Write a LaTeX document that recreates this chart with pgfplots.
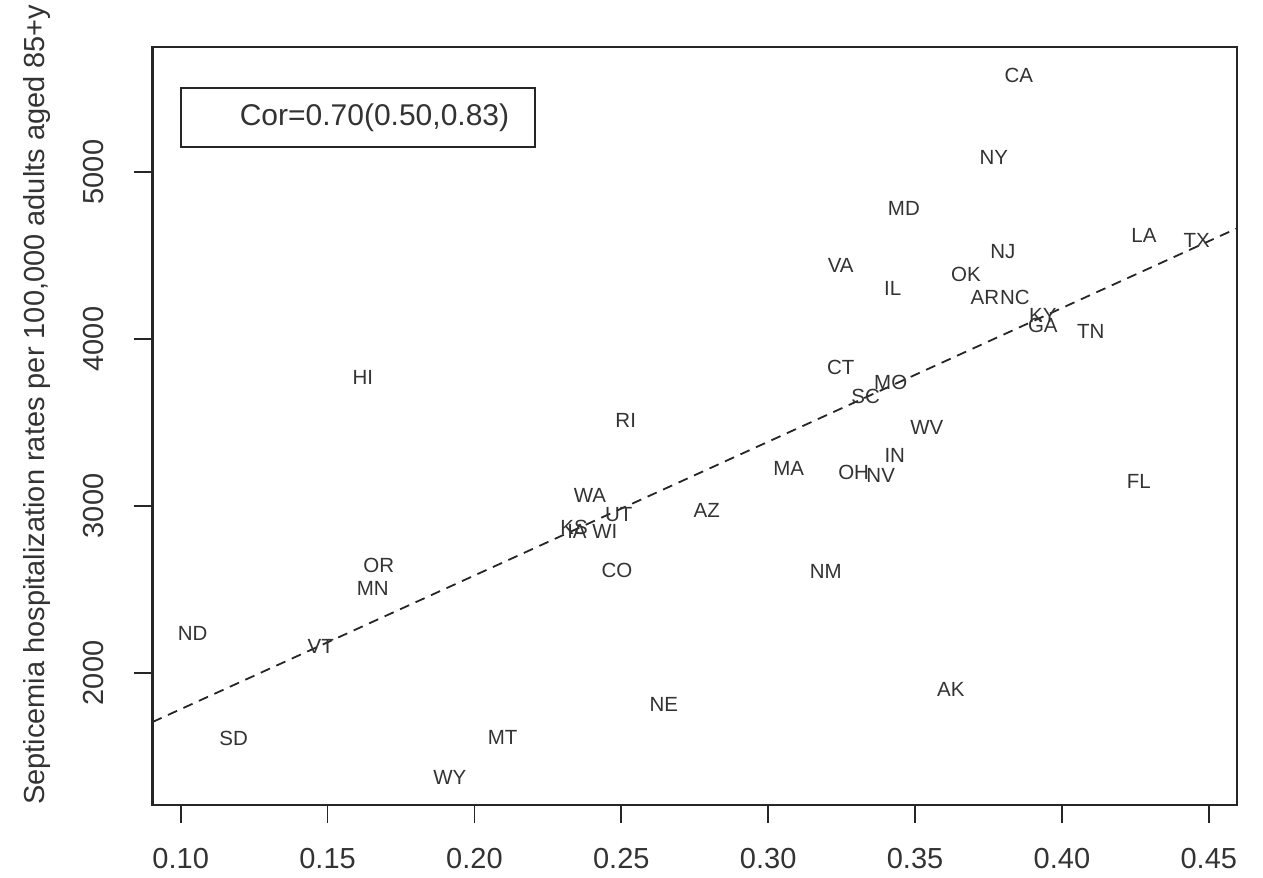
\documentclass[border=0pt]{standalone}
\usepackage{fontspec}
\setmainfont{Liberation Sans}
\usepackage{pgfplots}
\usepackage{pgfplotstable}
\pgfplotsset{compat=1.18}
\pgfplotstableread{
x y lab
0.3853 5581 CA
0.3768 5090 NY
0.3462 4784 MD
0.3799 4521 NJ
0.4279 4623 LA
0.4459 4593 TX
0.3247 4443 VA
0.3673 4389 OK
0.3424 4305 IL
0.3738 4246 AR
0.3840 4246 NC
0.3935 4144 KY
0.3935 4084 GA
0.4098 4048 TN
0.3247 3832 CT
0.3417 3737 MO
0.3332 3653 SC
0.1620 3772 HI
0.2515 3515 RI
0.3540 3473 WV
0.3431 3305 IN
0.3070 3222 MA
0.3291 3198 OH
0.3383 3180 NV
0.4262 3144 FL
0.2393 3066 WA
0.2491 2946 UT
0.2791 2976 AZ
0.2339 2874 KS
0.2349 2850 IA
0.2444 2850 WI
0.1674 2641 OR
0.1654 2509 MN
0.2485 2611 CO
0.3196 2605 NM
0.1041 2234 ND
0.1477 2156 VT
0.3622 1904 AK
0.2645 1814 NE
0.1180 1605 SD
0.2096 1611 MT
0.1916 1377 WY
}\states
\begin{document}
\begin{tikzpicture}
\useasboundingbox (-76.25bp,-36.5bp) rectangle (555.25bp,402.5bp);
\begin{axis}[
  at={(0,0)}, anchor=south west,
  width=542.25bp, height=379bp, scale only axis,
  xmin=0.0904, xmax=0.4596, ymin=1209, ymax=5749,
  xtick={0.10,0.15,0.20,0.25,0.30,0.35,0.40,0.45},
  xticklabels={0.10,0.15,0.20,0.25,0.30,0.35,0.40,0.45},
  ytick={2000,3000,4000,5000},
  yticklabels={2000,3000,4000,5000},
  xtick pos=bottom, ytick pos=left,
  tick align=outside, major tick length=9bp,
  axis line style={line width=1.1bp, black!85},
  tick style={line width=0.9bp, black!85},
  ticklabel style={font=\fontsize{14.5bp}{17bp}\selectfont, text=black!80},
  xticklabel style={anchor=north, inner sep=0pt},
  yticklabel style={rotate=90, anchor=south, inner sep=0pt},
  xticklabel shift=12.5bp,
  yticklabel shift=15bp,
  ylabel={Septicemia hospitalization rates per 100,000 adults aged 85+y},
  ylabel style={at={(rel axis cs:-0.1065,0.528)}, anchor=center, inner sep=0pt,
    font=\fontsize{14.5bp}{17bp}\selectfont, text=black!80},
  clip=false,
]
\addplot[draw=none, mark=none, nodes near coords, point meta=explicit symbolic,
  nodes near coords align=center,
  nodes near coords style={anchor=center, inner sep=0pt, text=black!80,
    font=\fontsize{10.25bp}{12bp}\selectfont}]
  table[x=x, y=y, meta=lab] {\states};
\addplot[black!85, line width=0.9bp, dash pattern=on 5bp off 3.5bp, mark=none]
  coordinates {(0.0904,1706) (0.4596,4663)};
\draw[line width=0.9bp, black!85] (rel axis cs:0.0263,0.8681) rectangle (rel axis cs:0.3527,0.9459);
\node[anchor=center, inner sep=0pt, text=black!80, font=\fontsize{15bp}{18bp}\selectfont]
  at (rel axis cs:0.2047,0.907) {Cor=0.70(0.50,0.83)};
\end{axis}
\end{tikzpicture}
\end{document}
